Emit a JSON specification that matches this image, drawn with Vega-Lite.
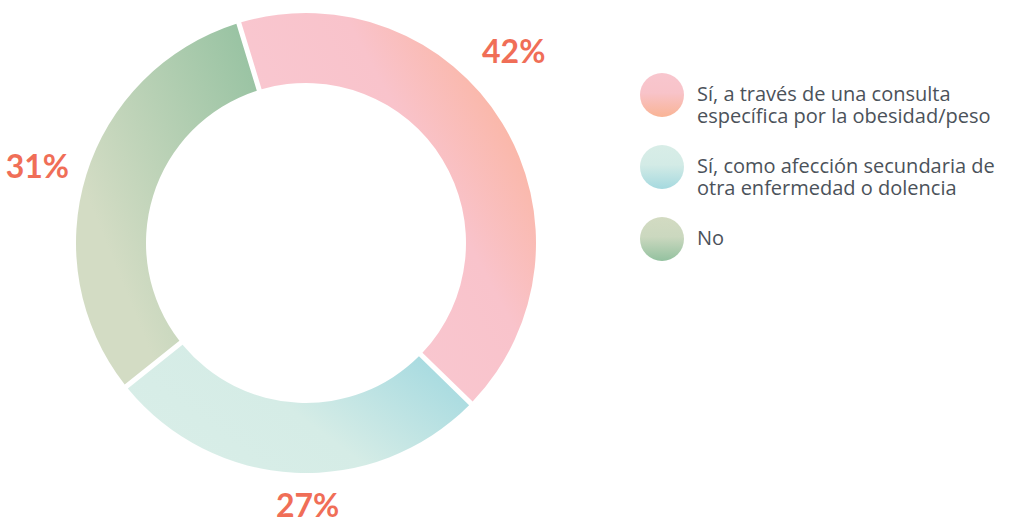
{
  "$schema": "https://vega.github.io/schema/vega-lite/v6.json",
  "padding": 0,
  "spacing": 0,
  "background": "white",
  "config": {"view": {"stroke": null}, "font": "Lato"},
  "datasets": {
    "d": [
      {"o": 1, "cat": "Sí, a través de una consulta específica por la obesidad/peso", "value": 42, "label": "42%", "lines": ["Sí, a través de una consulta", "específica por la obesidad/peso"]},
      {"o": 2, "cat": "Sí, como afección secundaria de otra enfermedad o dolencia", "value": 27, "label": "27%", "lines": ["Sí, como afección secundaria de", "otra enfermedad o dolencia"]},
      {"o": 3, "cat": "No", "value": 31, "label": "31%", "lines": ["No"]}
    ]
  },
  "hconcat": [
    {
      "width": 612,
      "height": 486,
      "data": {"name": "d"},
      "encoding": {
        "theta": {"field": "value", "type": "quantitative", "stack": true, "scale": {"range": [-0.2967, 5.9865]}},
        "order": {"field": "o", "type": "quantitative"},
        "detail": {"field": "cat", "type": "nominal"}
      },
      "layer": [
        {
          "mark": {"type": "arc", "innerRadius": 160, "outerRadius": 230, "padAngle": 0.018},
          "encoding": {
            "fill": {
              "condition": [
                {"test": "datum.o === 1", "value": {"gradient": "linear", "x1": 1, "y1": 0.1, "x2": 0.3, "y2": 0.6, "stops": [{"offset": 0, "color": "#fbb093"}, {"offset": 0.55, "color": "#f9c3cb"}, {"offset": 1, "color": "#f9c7d0"}]}},
                {"test": "datum.o === 2", "value": {"gradient": "linear", "x1": 0, "y1": 0.8, "x2": 1, "y2": 0.3, "stops": [{"offset": 0, "color": "#d9eee8"}, {"offset": 0.5, "color": "#d5ece6"}, {"offset": 1, "color": "#a6dae0"}]}}
              ],
              "value": {"gradient": "linear", "x1": 1, "y1": 0, "x2": 0.2, "y2": 0.65, "stops": [{"offset": 0, "color": "#94c1a0"}, {"offset": 1, "color": "#d3dcc4"}]}
            }
          }
        },
        {
          "mark": {"type": "text", "radius": 275, "fontWeight": "bold", "fontSize": 32, "fill": "#f06e57", "align": "center", "baseline": "middle", "dx": -27, "dy": -47},
          "encoding": {"text": {"condition": {"test": "datum.o !== 1", "value": ""}, "field": "label", "type": "nominal"}}
        },
        {
          "mark": {"type": "text", "radius": 275, "fontWeight": "bold", "fontSize": 32, "fill": "#f06e57", "align": "center", "baseline": "middle", "dx": 15, "dy": -11},
          "encoding": {"text": {"condition": {"test": "datum.o !== 2", "value": ""}, "field": "label", "type": "nominal"}}
        },
        {
          "mark": {"type": "text", "radius": 275, "fontWeight": "bold", "fontSize": 32, "fill": "#f06e57", "align": "center", "baseline": "middle", "dx": -6, "dy": 6},
          "encoding": {"text": {"condition": {"test": "datum.o !== 3", "value": ""}, "field": "label", "type": "nominal"}}
        }
      ]
    },
    {
      "width": 100,
      "height": 486,
      "data": {"name": "d"},
      "encoding": {
        "y": {"field": "o", "type": "quantitative", "scale": {"domain": [-0.3194, 6.4306], "reverse": true, "nice": false, "zero": false}, "axis": null}
      },
      "layer": [
        {
          "mark": {"type": "point", "filled": true, "shape": "circle", "size": 1936, "opacity": 1, "strokeWidth": 0},
          "encoding": {
            "fill": {
              "condition": [
                {"test": "datum.o === 1", "value": {"gradient": "linear", "x1": 0, "y1": 0, "x2": 0, "y2": 1, "stops": [{"offset": 0, "color": "#f8c6ce"}, {"offset": 0.45, "color": "#f8c3c9"}, {"offset": 1, "color": "#f9b495"}]}},
                {"test": "datum.o === 2", "value": {"gradient": "linear", "x1": 0, "y1": 0, "x2": 0, "y2": 1, "stops": [{"offset": 0, "color": "#d8ede7"}, {"offset": 0.45, "color": "#d3ebe6"}, {"offset": 1, "color": "#a5d9df"}]}}
              ],
              "value": {"gradient": "linear", "x1": 0, "y1": 0, "x2": 0, "y2": 1, "stops": [{"offset": 0, "color": "#d3dbc2"}, {"offset": 0.45, "color": "#cbd8bf"}, {"offset": 1, "color": "#93c19f"}]}
            }
          }
        },
        {
          "mark": {"type": "text", "align": "left", "baseline": "middle", "dx": 35, "fontSize": 20, "lineHeight": 22, "fill": "#4b525a", "font": "Open Sans"},
          "encoding": {"text": {"field": "lines", "type": "nominal"}}
        }
      ]
    }
  ]
}
